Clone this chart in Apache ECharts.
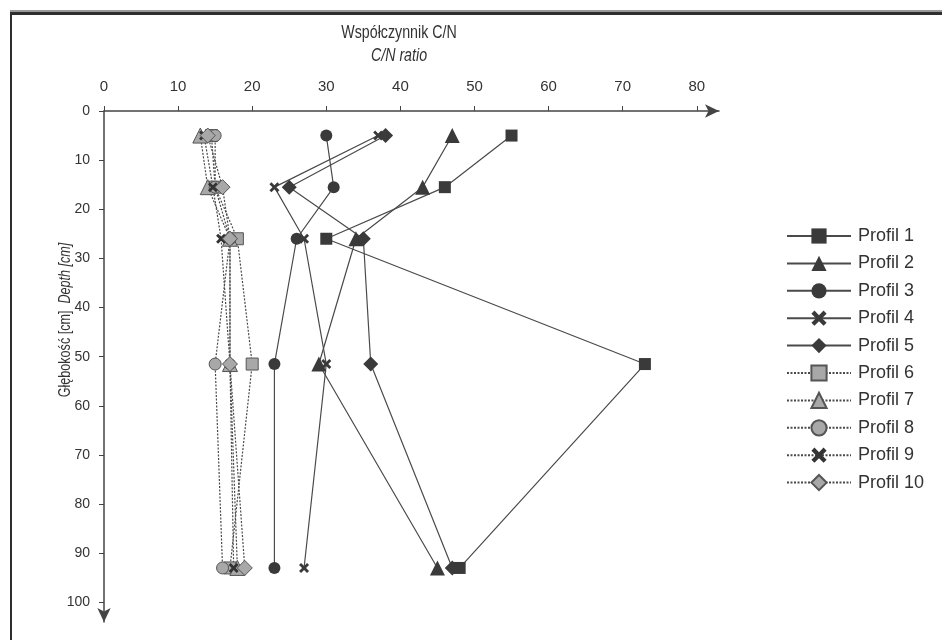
<!DOCTYPE html>
<html><head><meta charset="utf-8">
<script src="https://cdn.jsdelivr.net/npm/echarts@6/dist/echarts.min.js"></script>
<style>html,body{margin:0;padding:0;background:#fff}#c{width:942px;height:640px}</style>
</head><body><div id="c"></div>
<script>
const depths = [5, 15.5, 26, 51.5, 93];
const profileNames = ['Profil 1','Profil 2','Profil 3','Profil 4','Profil 5','Profil 6','Profil 7','Profil 8','Profil 9','Profil 10'];
const profil1 = [55, 46, 30, 73, 48];
const profil2 = [47, 43, 34, 29, 45];
const profil3 = [30, 31, 26, 23, 23];
const profil4 = [37, 23, 27, 30, 27];
const profil5 = [38, 25, 35, 36, 47];
const profil6 = [14.5, 15, 18, 20, 17];
const profil7 = [13, 14, 17, 17, 18];
const profil8 = [15, 15, 17, 15, 16];
const profil9 = [13.5, 14.7, 15.8, 17, 17.5];
const profil10 = [14, 16, 17, 17, 19];
const xTicks = [0, 10, 20, 30, 40, 50, 60, 70, 80];
const yTicks = [0, 10, 20, 30, 40, 50, 60, 70, 80, 90, 100];
const titleMain = 'Współczynnik C/N';
const titleSub = 'C/N ratio';
const yNameMain = 'Głębokość [cm]';
const yNameSub = 'Depth [cm]';

const allValues = [profil1, profil2, profil3, profil4, profil5, profil6, profil7, profil8, profil9, profil10];
const crossPath = 'path://M2,0 L5,3 L8,0 L10,2 L7,5 L10,8 L8,10 L5,7 L2,10 L0,8 L3,5 L0,2 Z';
const symbols = ['rect','triangle','circle',crossPath,'diamond','rect','triangle','circle',crossPath,'diamond'];
const sizes = [12, 15, 12, 10, 15, 12, 15, 12, 10, 15];
const FONT = 'Liberation Sans, Arial, sans-serif';

const series = allValues.map((vals, i) => {
  const dark = i < 5;
  const isCross = symbols[i] === crossPath;
  return {
    name: profileNames[i],
    type: 'line',
    data: vals.map((v, k) => [v, depths[k]]),
    symbol: symbols[i],
    symbolSize: sizes[i],
    showSymbol: true,
    lineStyle: dark ? {color: '#4a4a4a', width: 1.2, type: 'solid'} : {color: '#4a4a4a', width: 1.2, type: [2, 1.5]},
    itemStyle: dark ? {color: '#3a3a3a', borderWidth: 0}
                    : (isCross ? {color: '#333', borderWidth: 0} : {color: '#a8a8a8', borderColor: '#555', borderWidth: 1}),
    z: dark ? 3 : 2,
    animation: false
  };
});

const chart = echarts.init(document.getElementById('c'), null, {renderer: 'canvas'});
chart.setOption({
  backgroundColor: '#fff',
  animation: false,
  grid: {left: 104, top: 111, right: 223, bottom: 18, containLabel: false},
  xAxis: {
    type: 'value', position: 'top', min: 0, max: 83,
    splitLine: {show: false},
    axisLine: {show: true, lineStyle: {color: '#444', width: 1.5}, symbol: ['none', 'arrow'], symbolSize: [10, 14]},
    axisTick: {show: true, length: 5, lineStyle: {color: '#444'}, customValues: xTicks},
    axisLabel: {color: '#333', fontFamily: FONT, fontSize: 15, margin: 17, customValues: xTicks}
  },
  yAxis: {
    type: 'value', inverse: true, min: 0, max: 104,
    splitLine: {show: false},
    axisLine: {show: true, lineStyle: {color: '#444', width: 1.5}, symbol: ['arrow', 'none'], symbolSize: [10, 14]},
    axisTick: {show: true, length: 5, lineStyle: {color: '#444'}, customValues: yTicks},
    axisLabel: {color: '#333', fontFamily: FONT, fontSize: 14, margin: 14, customValues: yTicks}
  },
  legend: {
    orient: 'vertical', left: 781, top: 222,
    itemWidth: 64, itemHeight: 19, itemGap: 9.4,
    textStyle: {fontFamily: FONT, fontSize: 18, color: '#333', padding: [0, 0, 0, 2]},
    data: profileNames
  },
  graphic: [
    {type: 'rect', shape: {x: 10, y: 10, width: 932, height: 2}, style: {fill: '#999'}, silent: true},
    {type: 'rect', shape: {x: 10, y: 12, width: 932, height: 3}, style: {fill: '#2e2e2e'}, silent: true},
    {type: 'rect', shape: {x: 10, y: 12, width: 2, height: 628}, style: {fill: '#2e2e2e'}, silent: true},
    {type: 'text', x: 399, y: 33, scaleX: 0.79, silent: true,
     style: {text: titleMain, align: 'center', verticalAlign: 'middle', fontFamily: FONT, fontSize: 18, fill: '#333'}},
    {type: 'text', x: 399, y: 56, scaleX: 0.79, silent: true,
     style: {text: titleSub, align: 'center', verticalAlign: 'middle', fontFamily: FONT, fontSize: 18, fontStyle: 'italic', fill: '#333'}},
    {type: 'text', x: 65, y: 320, rotation: Math.PI / 2, scaleX: 0.74, silent: true,
     style: {text: '{n|' + yNameMain + '}  {i|' + yNameSub + '}', align: 'center', verticalAlign: 'middle',
             fontFamily: FONT, fontSize: 17, fill: '#333',
             rich: {n: {fontFamily: FONT, fontSize: 17, fill: '#333'}, i: {fontFamily: FONT, fontSize: 17, fill: '#333', fontStyle: 'italic'}}}}
  ],
  series: series
});
</script></body></html>
